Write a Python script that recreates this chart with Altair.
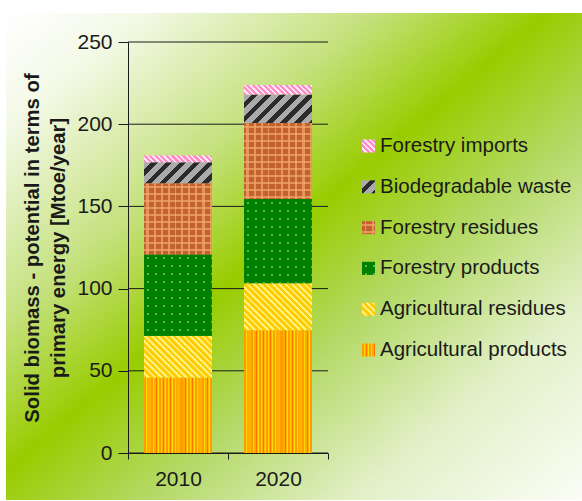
import math

import altair as alt
import pandas as pd

# ---- data -----------------------------------------------------------------
years = ["2010", "2020"]
categories = [
    "Agricultural products",
    "Agricultural residues",
    "Forestry products",
    "Forestry residues",
    "Biodegradable waste",
    "Forestry imports",
]
values_2010 = [45.7, 25.6, 49.5, 43.3, 12.8, 4.1]
values_2020 = [74.7, 28.5, 51.3, 46.2, 17.4, 5.7]
y_ticks = [0, 50, 100, 150, 200, 250]
y_title = ["Solid biomass - potential in terms of", "primary energy [Mtoe/year]"]
legend_order = list(reversed(categories))

rows = []
for i, cat in enumerate(categories):
    rows.append({"year": years[0], "category": cat, "order": i, "value": values_2010[i]})
    rows.append({"year": years[1], "category": cat, "order": i, "value": values_2020[i]})
df = pd.DataFrame(rows)

# ---- layout / style -------------------------------------------------------
PLOT_W, PLOT_H = 200, 411
Y_MAX = 250
BAR_W = 68
SWATCH = 13
LEGEND_SPAN = [104, 308]  # vertical extent of the legend entries inside the view
FONT = "Liberation Sans"
INK = "#1a1a1a"
PX_PER_UNIT = PLOT_H / Y_MAX


def clamp(v):
    return max(0.0, min(1.0, round(v, 5)))


def stops_from_unit(unit, length):
    """Hard-edged stops repeating `unit` (list of (colour, px)) along `length` px."""
    stops = []
    pos, i = 0.0, 0
    while pos < length - 1e-6:
        color, w = unit[i % len(unit)]
        end = min(length, pos + w)
        stops.append(alt.GradientStop(color=color, offset=clamp(pos / length)))
        stops.append(alt.GradientStop(color=color, offset=clamp(end / length)))
        pos, i = end, i + 1
    return stops


def vertical_stripes(unit, w):
    return alt.LinearGradient(gradient="linear", x1=0, y1=0, x2=1, y2=0,
                              stops=stops_from_unit(unit, w))


def horizontal_stripes(unit, h):
    return alt.LinearGradient(gradient="linear", x1=0, y1=0, x2=0, y2=1,
                              stops=stops_from_unit(unit, h))


def diagonal_stripes(unit, w, h, rising):
    """45-degree hatching on a w x h box ("/" when rising, "\\" otherwise)."""
    k = (w + h) / (w * w + h * h)
    length = (w + h) / math.sqrt(2)
    stops = stops_from_unit(unit, length)
    if rising:
        return alt.LinearGradient(gradient="linear", x1=0, y1=0, x2=k * w, y2=k * h, stops=stops)
    return alt.LinearGradient(gradient="linear", x1=0, y1=1, x2=k * w, y2=1 - k * h, stops=stops)


CLEAR = "rgba(0,0,0,0)"
AP_UNIT = [("#ff9c00", 2.0), ("#ffd400", 1.0), ("#ffac00", 1.5), ("#ff7400", 0.8),
           ("#ffb400", 1.2), ("#ffe400", 0.8)]
AR_UNIT = [("#ffcc00", 2.6), ("#fff080", 1.9)]
BW_UNIT = [("#ababab", 5.5), ("#2b2b2b", 4.5)]
FI_UNIT = [("#ff8cc8", 2.2), ("#ffe6f3", 1.7)]
FP_COLS = [(CLEAR, 3.0), ("#62b83a", 2.0), (CLEAR, 3.0)]
FP_ROWS = [("#008000", 3.0), (CLEAR, 2.0), ("#008000", 3.0)]
FR_LINES = [(CLEAR, 2.5), ("rgba(240,165,105,0.75)", 2.0), (CLEAR, 2.5)]


def fills(cat, w, h):
    """Stack of fills (bottom to top) that paints the texture of a category."""
    if cat == "Agricultural products":
        return [vertical_stripes(AP_UNIT, w)]
    if cat == "Agricultural residues":
        return [diagonal_stripes(AR_UNIT, w, h, rising=False)]
    if cat == "Forestry products":
        return ["#008000", vertical_stripes(FP_COLS, w), horizontal_stripes(FP_ROWS, h)]
    if cat == "Forestry residues":
        return ["#c4622f", vertical_stripes(FR_LINES, w), horizontal_stripes(FR_LINES, h)]
    if cat == "Biodegradable waste":
        return [diagonal_stripes(BW_UNIT, w, h, rising=True)]
    return [diagonal_stripes(FI_UNIT, w, h, rising=False)]


# ---- shared encodings -----------------------------------------------------
y_scale = alt.Scale(domain=[0, Y_MAX], nice=False, zero=True)
y_axis = alt.Axis(
    values=y_ticks, grid=False, title=y_title, zindex=1,
    domainColor=INK, tickColor=INK, tickSize=10, labelPadding=6,
    labelFontSize=21, labelColor=INK, labelFont=FONT,
    titleFontSize=20.3, titleFontWeight="bold", titleColor=INK, titleFont=FONT,
    titlePadding=8, titleLineHeight=26,
)
x_enc = alt.X(
    "year:N",
    scale=alt.Scale(domain=years, paddingInner=0, paddingOuter=0),
    axis=alt.Axis(title=None, labelAngle=0, tickBand="extent", zindex=1,
                  domainColor=INK, tickColor=INK, tickSize=6,
                  labelFontSize=21, labelColor=INK, labelFont=FONT, labelPadding=9),
)


def y_enc(field):
    return alt.Y(field, scale=y_scale, axis=y_axis)


# ---- background -----------------------------------------------------------
bg_gradient = alt.LinearGradient(
    gradient="linear", x1=0, y1=0, x2=1, y2=1,
    stops=[
        alt.GradientStop(color="#ffffff", offset=0.0),
        alt.GradientStop(color="#f3f9e6", offset=0.12),
        alt.GradientStop(color="#c4e17c", offset=0.32),
        alt.GradientStop(color="#99cc00", offset=0.47),
        alt.GradientStop(color="#b4d966", offset=0.62),
        alt.GradientStop(color="#e2f0c8", offset=0.8),
        alt.GradientStop(color="#fbfdf6", offset=1.0),
    ],
)
background = alt.Chart(pd.DataFrame({"k": [0]})).mark_rect(fill=bg_gradient).encode(
    x=alt.value(-122), x2=alt.value(454), y=alt.value(-29), y2=alt.value(458)
)

# ---- horizontal grid ------------------------------------------------------
grid = alt.Chart(pd.DataFrame({"tick": y_ticks})).mark_rule(color=INK, strokeWidth=1).encode(
    x=alt.value(0), x2=alt.value(PLOT_W), y=y_enc("tick:Q")
)

# ---- stacked bars ---------------------------------------------------------
stacked = alt.Chart(df).transform_stack(
    stack="value", groupby=["year"], as_=["y0", "y1"],
    sort=[alt.SortField("order", order="ascending")],
)

bar_layers = [grid]
for yr, vals in zip(years, [values_2010, values_2020]):
    for cat, v in zip(categories, vals):
        h = v * PX_PER_UNIT
        for f in fills(cat, BAR_W, h):
            bar_layers.append(
                stacked.transform_filter(
                    (alt.datum.category == cat) & (alt.datum.year == yr)
                ).mark_bar(fill=f, size=BAR_W, strokeWidth=0).encode(
                    x=x_enc, y=y_enc("y0:Q"), y2="y1:Q"
                )
            )
bars = alt.layer(*bar_layers)

# ---- legend ---------------------------------------------------------------
leg_y = alt.Y(
    "category:N",
    scale=alt.Scale(type="point", domain=legend_order, range=LEGEND_SPAN, padding=0),
    axis=None,
)
legend_layers = []
for cat in legend_order:
    for f in fills(cat, SWATCH, SWATCH):
        legend_layers.append(
            alt.Chart(pd.DataFrame({"category": [cat]}))
            .mark_square(size=SWATCH * SWATCH, fill=f, opacity=1, strokeWidth=0)
            .encode(x=alt.value(240.5), y=leg_y)
        )
legend_layers.append(
    alt.Chart(pd.DataFrame({"category": legend_order}))
    .mark_text(align="left", baseline="middle", fontSize=20.5, font=FONT, color=INK)
    .encode(x=alt.value(252), y=leg_y, text="category:N")
)
legend = alt.layer(*legend_layers)

chart = (
    alt.layer(background, bars, legend)
    .resolve_scale(y="independent")
    .properties(
        width=PLOT_W,
        height=PLOT_H,
        autosize=alt.AutoSizeParams(type="none"),
        padding={"left": 128, "top": 42, "right": 254, "bottom": 48},
        background="#ffffff",
    )
    .configure_view(stroke=None)
    .configure(font=FONT)
)

chart.save("out.html", embed_options={"renderer": "svg", "actions": False})
